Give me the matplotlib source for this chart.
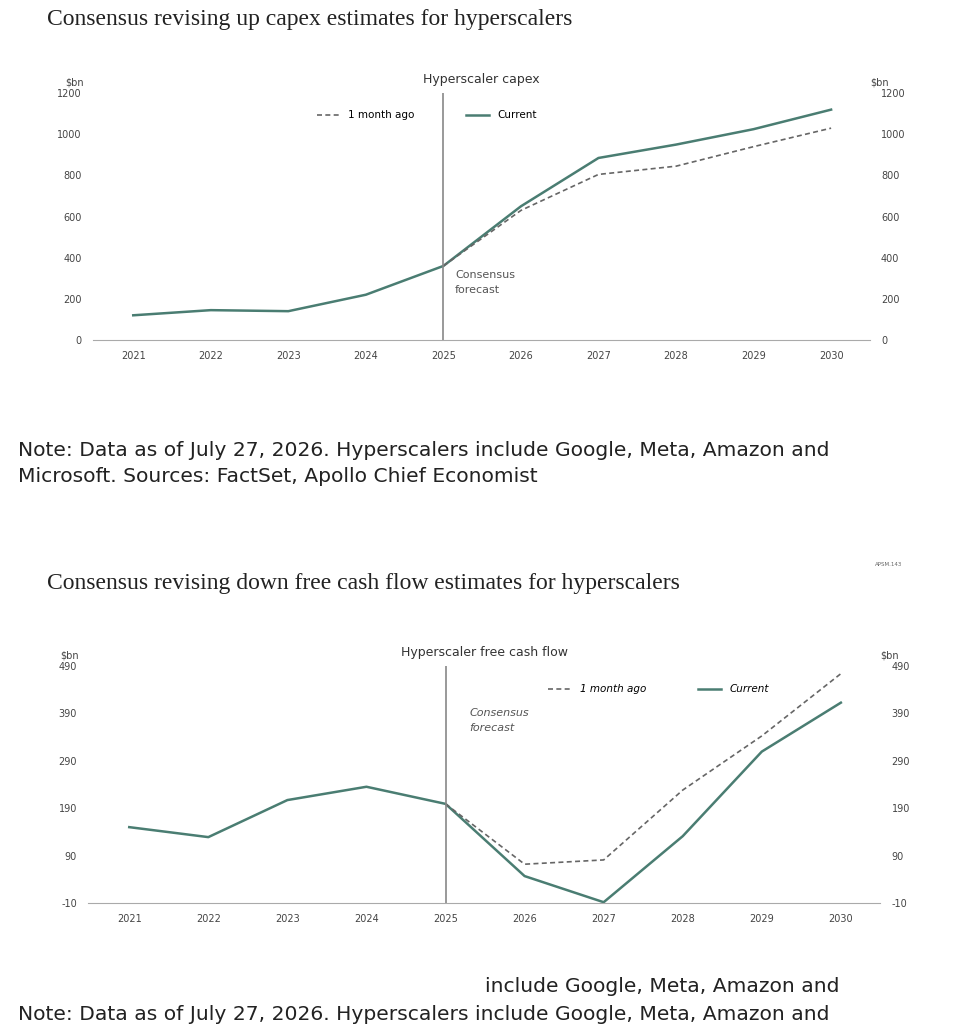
import matplotlib
matplotlib.use("Agg")
import matplotlib.pyplot as plt
plt.rcParams["axes.unicode_minus"] = False

years = [2021, 2022, 2023, 2024, 2025, 2026, 2027, 2028, 2029, 2030]
capex_current = [120, 145, 140, 220, 360, 650, 885, 950, 1025, 1120]
capex_ago_years = [2025, 2026, 2027, 2028, 2029, 2030]
capex_ago = [360, 630, 805, 845, 940, 1030]
capex_ticks = [0, 200, 400, 600, 800, 1000, 1200]

fcf_current = [150, 129, 207, 235, 199, 47, -8, 131, 309, 412]
fcf_ago_years = [2025, 2026, 2027, 2028, 2029, 2030]
fcf_ago = [199, 72, 81, 228, 342, 473]
fcf_ticks = [-10, 90, 190, 290, 390, 490]

GREEN = "#4a7d72"
GREY = "#666666"
W, H = 958, 1024
fig = plt.figure(figsize=(W/100, H/100), dpi=100)

def panel(rect, cur, agoy, ago, ticks, title, legy, legx, italic):
    ax = fig.add_axes(rect)
    ax.plot(years, cur, color=GREEN, lw=1.8, label="Current")
    ax.plot(agoy, ago, color=GREY, lw=1.2, ls=(0, (3, 2)), label="1 month ago")
    ax.axvline(2025, color="#888888", lw=1.2)
    ax.set_xlim(2020.48, 2030.5)
    ax.set_ylim(ticks[0], ticks[-1])
    ax.set_yticks(ticks)
    ax.set_xticks(years)
    ax.tick_params(length=0, labelsize=7, colors="#444444", pad=8)
    ax.tick_params(axis="y", labelright=True, right=False)
    for s in ["top", "left", "right"]:
        ax.spines[s].set_visible(False)
    ax.spines["bottom"].set_color("#aaaaaa")
    ax.text(0.5, 1.04, title, transform=ax.transAxes, ha="center", fontsize=9, color="#333333")
    ax.text(-0.035, 1.03, "$bn", transform=ax.transAxes, fontsize=7, color="#444444")
    ax.text(1.0, 1.03, "$bn", transform=ax.transAxes, fontsize=7, color="#444444")
    h, l = ax.get_legend_handles_labels()
    ax.legend([h[1], h[0]], [l[1], l[0]], loc="center", bbox_to_anchor=(legx, legy), ncol=2,
              frameon=False, columnspacing=5, handlelength=2.2,
              prop={"style": "italic" if italic else "normal", "size": 7.5})
    return ax

ax1 = panel([0.097, 0.668, 0.811, 0.241], capex_current, capex_ago_years, capex_ago,
            capex_ticks, "Hyperscaler capex", 0.91, 0.43, False)
ax1.text(2025.15, 280, "Consensus\nforecast", fontsize=8, color="#555555", va="center", linespacing=1.6)

ax2 = panel([0.092, 0.118, 0.827, 0.232], fcf_current, fcf_ago_years, fcf_ago,
            fcf_ticks, "Hyperscaler free cash flow", 0.90, 0.72, True)
ax2.text(2025.3, 375, "Consensus\nforecast", fontsize=8, color="#555555", va="center",
         linespacing=1.6, style="italic")

fig.text(47/W, 1-20/H, "Consensus revising up capex estimates for hyperscalers",
         family="Liberation Serif", fontsize=17, va="center", color="#222222")
fig.text(47/W, 1-583/H, "Consensus revising down free cash flow estimates for hyperscalers",
         family="Liberation Serif", fontsize=17, va="center", color="#222222")
NOTE = 14.6
fig.text(18/W, 1-450/H, "Note: Data as of July 27, 2026. Hyperscalers include Google, Meta, Amazon and",
         fontsize=NOTE, va="center", color="#222222")
fig.text(18/W, 1-477/H, "Microsoft. Sources: FactSet, Apollo Chief Economist",
         fontsize=NOTE, va="center", color="#222222")
fig.text(875/W, 1-564/H, "APSM.143", fontsize=4, va="center", color="#666666")
fig.text(485/W, 1-986/H, "include Google, Meta, Amazon and",
         fontsize=NOTE, va="center", color="#222222")
fig.text(18/W, 1-1015/H, "Note: Data as of July 27, 2026. Hyperscalers include Google, Meta, Amazon and",
         fontsize=NOTE, va="center", color="#222222")

fig.savefig("out.png", dpi=100)
